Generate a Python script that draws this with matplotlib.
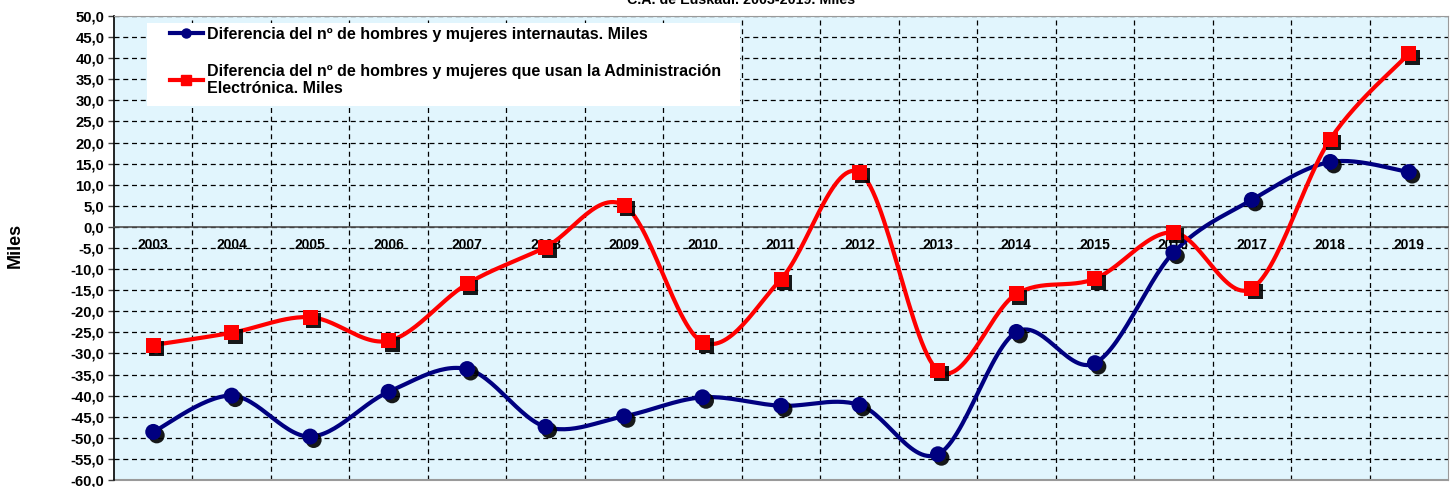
import matplotlib
matplotlib.use("Agg")
import matplotlib.pyplot as plt
import matplotlib.patheffects as pe
from matplotlib.lines import Line2D
from matplotlib.patches import Rectangle
from matplotlib.ticker import FixedLocator, FuncFormatter
import numpy as np

years = ["2003", "2004", "2005", "2006", "2007", "2008", "2009", "2010", "2011",
         "2012", "2013", "2014", "2015", "2016", "2017", "2018", "2019"]
internautas = [-48.6, -40.0, -49.7, -39.1, -33.7, -47.4, -44.9, -40.4, -42.4,
               -42.2, -53.9, -24.9, -32.3, -6.1, 6.4, 15.4, 13.0]
admin_electronica = [-28.0, -25.1, -21.4, -27.0, -13.5, -4.8, 5.1, -27.3, -12.4,
                     12.9, -34.0, -15.9, -12.3, -1.3, -14.6, 20.8, 41.0]

label_int = "Diferencia del nº de hombres y mujeres internautas. Miles"
label_adm = ("Diferencia del nº de hombres y mujeres que usan la Administración\n"
             "Electrónica. Miles")

plt.rcParams["font.family"] = ["Liberation Sans", "DejaVu Sans"]
plt.rcParams["font.weight"] = "bold"

BLUE = "#000080"
RED = "#FF0000"
BG = "#E1F5FD"
W, H = 1456, 487


def smooth(values, n=30):
    # Excel-style smoothed line (Bezier through the points, Catmull-Rom tangents)
    y = np.asarray(values, dtype=float)
    x = np.arange(len(y), dtype=float)
    xs, ys = [], []
    for i in range(len(y) - 1):
        p0 = np.array([x[max(i - 1, 0)], y[max(i - 1, 0)]])
        p1 = np.array([x[i], y[i]])
        p2 = np.array([x[i + 1], y[i + 1]])
        p3 = np.array([x[min(i + 2, len(y) - 1)], y[min(i + 2, len(y) - 1)]])
        c1 = p1 + (p2 - p0) / 6.0
        c2 = p2 - (p3 - p1) / 6.0
        t = np.linspace(0, 1, n)[:, None]
        pts = ((1 - t) ** 3) * p1 + 3 * ((1 - t) ** 2) * t * c1 + 3 * (1 - t) * t ** 2 * c2 + t ** 3 * p2
        xs.extend(pts[:, 0])
        ys.extend(pts[:, 1])
    return np.array(xs), np.array(ys)


fig = plt.figure(figsize=(W / 100, H / 100), dpi=100)
ax = fig.add_axes([114 / W, 1 - 480 / H, 1334 / W, 464 / H])
ax.set_facecolor(BG)

xpos = np.arange(len(years))
shadow = [pe.SimplePatchShadow(offset=(2.5, -2.5), shadow_rgbFace="black", alpha=0.9), pe.Normal()]

for vals, color, marker, ms in [(internautas, BLUE, "o", 11.5), (admin_electronica, RED, "s", 10.8)]:
    sx, sy = smooth(vals)
    ax.plot(sx, sy, color=color, lw=3.0, zorder=3, solid_capstyle="round")
    ax.plot(xpos, vals, linestyle="none", marker=marker, markersize=ms,
            color=color, markeredgewidth=0, zorder=4, path_effects=shadow)

ax.set_xlim(-0.5, len(years) - 0.5)
ax.set_ylim(-60, 50)

ax.set_yticks(np.arange(-60, 50.1, 5))
ax.yaxis.set_major_formatter(FuncFormatter(lambda v, p: f"{v:.1f}".replace(".", ",")))
ax.tick_params(axis="y", length=4, width=1, labelsize=10.7, pad=3, color="#404040")

ax.set_xticks(xpos)
ax.set_xticklabels(years, fontsize=12.5, fontweight="bold")
ax.xaxis.set_minor_locator(FixedLocator(np.arange(0.5, len(years) - 1, 1.0)))
ax.tick_params(axis="x", which="both", length=0, pad=8)

ax.grid(axis="y", which="major", linestyle=(0, (4, 3)), color="black", lw=0.9)
ax.grid(axis="x", which="minor", linestyle=(0, (4, 3)), color="black", lw=0.9)
ax.set_axisbelow(True)

ax.spines["bottom"].set_position(("data", 0))
ax.spines["bottom"].set_color("#505050")
ax.spines["bottom"].set_linewidth(1.2)
ax.spines["left"].set_color("black")
ax.spines["left"].set_linewidth(1.2)
ax.spines["top"].set_color("#9a9a9a")
ax.spines["right"].set_color("#9a9a9a")
ax.axhline(-60, color="#9a9a9a", lw=1.5, clip_on=False, zorder=2)

# white legend panel
ax.add_patch(Rectangle((147 / W, 1 - 106 / H), (740 - 147) / W, 83 / H,
                       transform=fig.transFigure, facecolor="white", edgecolor="none",
                       zorder=2.5))

handles = [
    Line2D([], [], color=BLUE, lw=3, marker="o", markersize=6.5),
    Line2D([], [], color=RED, lw=3, marker="s", markersize=6.5),
]
leg = ax.legend(handles, [label_int, label_adm], loc="upper left",
                bbox_to_anchor=(170 / W, 1 - 27 / H), bbox_transform=fig.transFigure,
                borderaxespad=0, borderpad=0, frameon=False, handlelength=2.05,
                handletextpad=0.25, labelspacing=1.35,
                prop={"size": 11.5, "weight": "bold"})
leg.set_zorder(5)

fig.text(741 / W, 1 - 4 / H, "C.A. de Euskadi. 2003-2019. Miles", ha="center", va="baseline",
         fontsize=10.3, fontweight="bold")
fig.text(15 / W, 1 - 245 / H, "Miles", rotation=90, ha="center", va="center",
         fontsize=13, fontweight="bold")

fig.savefig("out.png", dpi=100)
